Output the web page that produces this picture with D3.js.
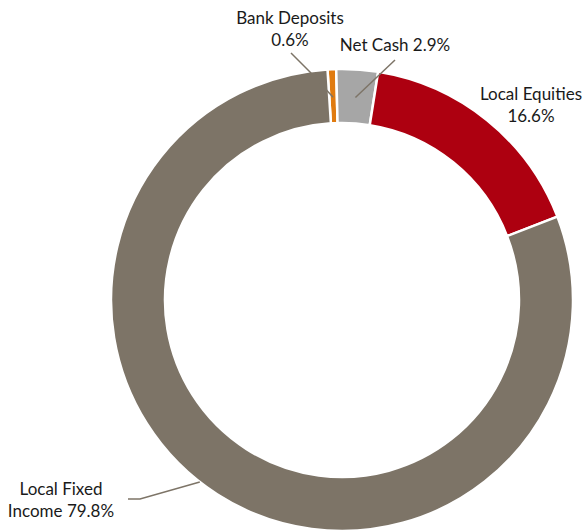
<!DOCTYPE html>
<html>
<head>
<meta charset="utf-8">
<script src="https://cdn.jsdelivr.net/npm/d3@7"></script>
<style>
  body { margin: 0; background: #fff; }
  text { font-family: Lato, "Open Sans", sans-serif; fill: #1a1a1a; }
</style>
</head>
<body>
<div id="chart"></div>
<script>
// slice order clockwise from the top
const categories = ['Bank Deposits', 'Net Cash', 'Local Equities', 'Local Fixed Income'];
const shares = [0.6, 2.9, 16.6, 79.8];
const colors = ['#e07b10', '#a6a6a6', '#ad0010', '#7d7467'];
const labelLines = [['Bank Deposits', '0.6%'], ['Net Cash 2.9%'], ['Local Equities', '16.6%'], ['Local Fixed', 'Income 79.8%']];

const width = 584, height = 531;
const cx = 342, cy = 300;
const outerR = 231, innerR = 177;

const svg = d3.select('#chart').append('svg')
    .attr('width', width)
    .attr('height', height);

const g = svg.append('g')
    .attr('transform', `translate(${cx}, ${cy})`);

const deg = Math.PI / 180;
const startAngle = -3.6 * deg;

const pie = d3.pie()
    .sort(null)
    .value(d => d)
    .startAngle(startAngle)
    .endAngle(startAngle + 2 * Math.PI);

const arc = d3.arc()
    .innerRadius(innerR)
    .outerRadius(outerR);

const arcs = pie(shares);

g.selectAll('.slice')
    .data(arcs)
    .join('path')
    .attr('class', 'slice')
    .attr('d', arc)
    .attr('fill', (d, i) => colors[i])
    .attr('stroke', '#fff')
    .attr('stroke-width', 2.5);

// label placement (relative to svg), plus leader line start points
const labelPos = [
    { x: 290, y: 24, line: [[291, 53], [310, 72]] },
    { x: 395, y: 51, line: [[395, 60]] },
    { x: 531, y: 100, line: null },
    { x: 61, y: 495, line: [[128, 499], [140, 499]] }
];

const pointAt = (angle, r) => [cx + r * Math.sin(angle), cy - r * Math.cos(angle)];

arcs.forEach((a, i) => {
    const lp = labelPos[i];
    if (lp.line) {
        const mid = (a.startAngle + a.endAngle) / 2;
        const end = i === 3 ? pointAt(218 * deg, outerR) : pointAt(mid, (innerR + outerR) / 2 - 1);
        svg.append('path')
            .attr('d', d3.line()([...lp.line, end]))
            .attr('fill', 'none')
            .attr('stroke', '#7d7467')
            .attr('stroke-width', 1.5);
    }
    const t = svg.append('text')
        .attr('text-anchor', 'middle')
        .style('font-size', '17px');
    labelLines[i].forEach((s, k) => {
        t.append('tspan')
            .attr('x', lp.x)
            .attr('y', lp.y + k * 21.5)
            .text(s);
    });
});
</script>
</body>
</html>
